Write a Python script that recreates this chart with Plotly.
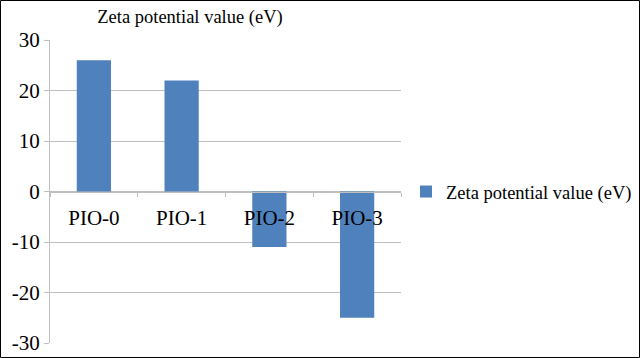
import plotly.graph_objects as go

categories = ["PIO-0", "PIO-1", "PIO-2", "PIO-3"]
zeta_values = [26, 22, -11, -25]
series_name = "Zeta potential value (eV)"
y_ticks = [-30, -20, -10, 0, 10, 20, 30]
y_tick_labels = [str(v) for v in y_ticks]

W, H = 640, 358
L, R, T, B = 50, 239, 40, 15
pw, ph = W - L - R, H - T - B

def px_x(x):
    return (x - L) / pw

def px_y(y):
    return (H - B - y) / ph

FONT = "Liberation Serif"
FS_TITLE = 18.5
FS_TICK = 21
GRID = "#bfbfbf"

fig = go.Figure()
fig.add_trace(go.Bar(
    x=categories, y=zeta_values, name=series_name,
    marker=dict(color="#4f81bd", line=dict(width=0)),
    showlegend=True,
))

fig.update_layout(
    width=W, height=H,
    margin=dict(l=L, r=R, t=T, b=B, pad=0, autoexpand=False),
    paper_bgcolor="white", plot_bgcolor="white",
    font=dict(family=FONT, size=FS_TITLE, color="black"),
    bargap=0.61,
    title=dict(text="Zeta potential value (eV)", x=190 / W, xref="container", xanchor="center",
               y=1 - 17 / H, yref="container", yanchor="middle",
               font=dict(family=FONT, size=FS_TITLE, color="black")),
    xaxis=dict(anchor="free", position=0.5, showgrid=False, showline=True, linecolor=GRID,
               linewidth=1, ticks="outside", ticklen=4, tickcolor=GRID, tickson="boundaries",
               ticklabelstandoff=7, tickfont=dict(family=FONT, size=FS_TICK, color="black"),
               zeroline=False, automargin=False),
    yaxis=dict(range=[-30, 30], tickvals=y_ticks, ticktext=y_tick_labels, showgrid=True,
               gridcolor=GRID, gridwidth=1, automargin=False,
               showline=True, linecolor=GRID, linewidth=1, ticks="outside", ticklen=5,
               tickcolor=GRID, zeroline=False, tickfont=dict(family=FONT, size=FS_TICK, color="black")),
    legend=dict(x=px_x(406), xanchor="left", y=px_y(192), yanchor="middle",
                itemwidth=30, font=dict(family=FONT, size=FS_TITLE, color="black"),
                bgcolor="rgba(0,0,0,0)"),
    shapes=[dict(type="rect", xref="paper", yref="paper",
                 x0=px_x(0.5), x1=px_x(639.5), y0=px_y(357.5), y1=px_y(0.5),
                 line=dict(color="black", width=1), fillcolor="rgba(0,0,0,0)", layer="above")],
)

fig.write_html("out.html", config={"displayModeBar": False},
               post_script="document.body.style.margin='0';")
